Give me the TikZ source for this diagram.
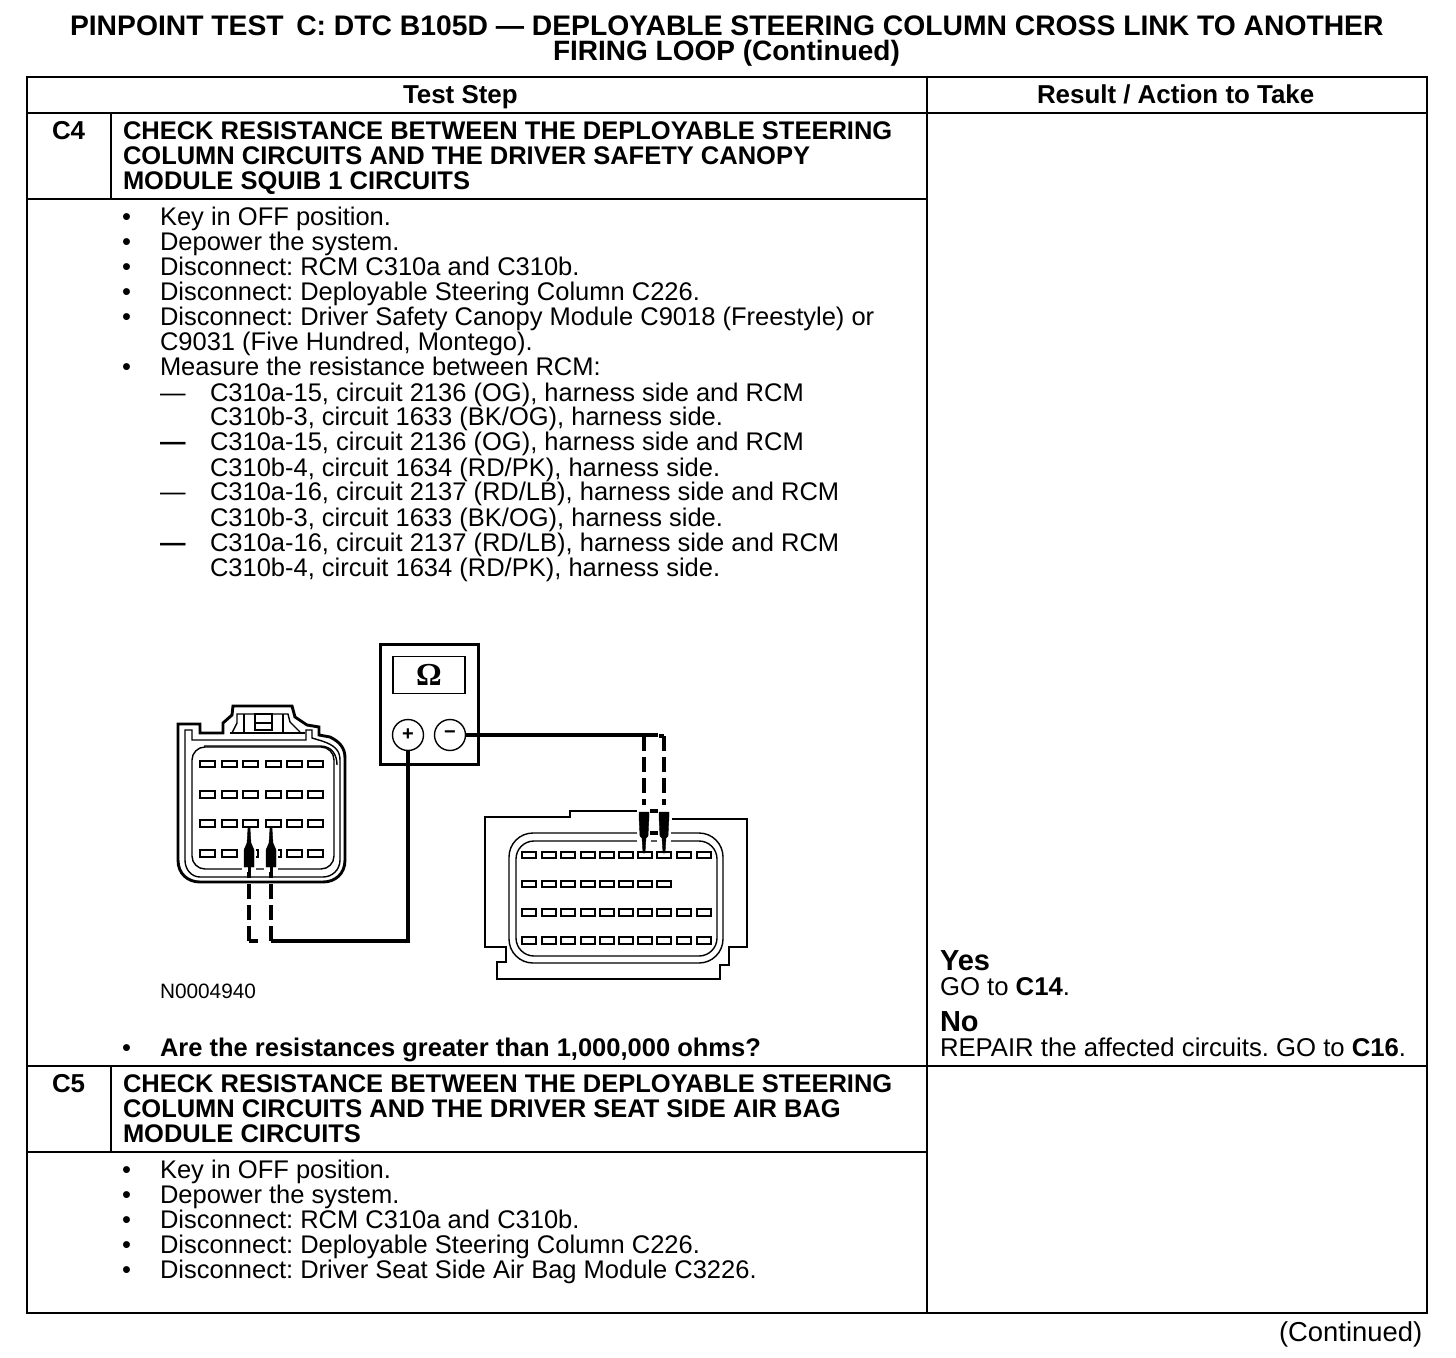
\documentclass[tikz,border=0pt]{standalone}
\usepackage{fontspec}
\setmainfont{Liberation Sans}
\newfontfamily\serifb{Liberation Serif}[BoldFont={Liberation Serif Bold}]
\newcounter{tn}
\frenchspacing
\tikzset{
 txt/.style={inner sep=0pt,outer sep=0pt,anchor=base west,font=\fontsize{12.75pt}{15pt}\selectfont},
 txtb/.style={txt,font=\fontsize{12.75pt}{15pt}\selectfont\bfseries},
 txtt/.style={txt,font=\fontsize{14pt}{15pt}\selectfont\bfseries},
 txth/.style={txt,font=\fontsize{12.95pt}{15pt}\selectfont\bfseries},
 rule/.style={line width=1.45pt,line cap=rect},
 shell/.style={line width=1.45pt,line join=miter},
 thinl/.style={line width=0.7pt},
 pin/.style={line width=0.85pt},
 wire/.style={line width=1.6pt},
 dashw/.style={line width=1.8pt,dash pattern=on 7.5pt off 3pt},
 probe/.style={fill=black,draw=black,line width=0.2pt}
}
\newcommand\tline[3]{\stepcounter{tn}\node[txt] (t\arabic{tn}) at (#1,#2) {#3};}
\newcommand\bline[3]{\stepcounter{tn}\node[txtb] (t\arabic{tn}) at (#1,#2) {#3};}
\newcommand\tbline[3]{\stepcounter{tn}\node[txtt] (t\arabic{tn}) at (#1,#2) {#3};}
\newcommand\hdline[3]{\stepcounter{tn}\node[txth] (t\arabic{tn}) at (#1,#2) {#3};}
\newcommand\bul[1]{\stepcounter{tn}\node[txt] (t\arabic{tn}) at (122,#1) {•};}
\newcommand\pinbox[4]{\draw[pin,fill=white] (#1,#2) rectangle (#3,#4);}
\begin{document}
\begin{tikzpicture}[x=0.5pt,y=-0.5pt]
\useasboundingbox (0,0) rectangle (1456,1358);
% table
\draw[rule] (27,77) rectangle (1427,1313);
\draw[rule] (27,113) -- (1427,113);
\draw[rule] (927,77) -- (927,1313);
\draw[rule] (27,1066) -- (1427,1066);
\draw[rule] (111,113) -- (111,199);
\draw[rule] (27,199) -- (927,199);
\draw[rule] (111,1066) -- (111,1152);
\draw[rule] (27,1152) -- (927,1152);
% title
\stepcounter{tn}\node[txtt,font=\fontsize{14.14pt}{15pt}\selectfont\bfseries] (t\arabic{tn}) at (70,36) {PINPOINT TEST\, C: DTC B105D — DEPLOYABLE STEERING COLUMN CROSS LINK TO ANOTHER};
\tbline{553}{61}{FIRING LOOP (Continued)}
\hdline{403}{104}{Test Step}
\hdline{1037}{104}{Result / Action to Take}
% C4
\hdline{52}{139.5}{C4}
\bline{123}{139.5}{CHECK RESISTANCE BETWEEN THE DEPLOYABLE STEERING}
\bline{123}{164.5}{COLUMN CIRCUITS AND THE DRIVER SAFETY CANOPY}
\bline{123}{189.5}{MODULE SQUIB 1 CIRCUITS}
\bul{226}\tline{160}{226}{Key in OFF position.}
\bul{251}\tline{160}{251}{Depower the system.}
\bul{276}\tline{160}{276}{Disconnect: RCM C310a and C310b.}
\bul{301}\tline{160}{301}{Disconnect: Deployable Steering Column C226.}
\bul{326}\tline{160}{326}{Disconnect: Driver Safety Canopy Module C9018 (Freestyle) or}
\tline{160}{351}{C9031 (Five Hundred, Montego).}
\bul{376}\tline{160}{376}{Measure the resistance between RCM:}
\tline{160}{401}{—}\tline{210}{401}{C310a-15, circuit 2136 (OG), harness side and RCM}
\tline{210}{426}{C310b-3, circuit 1633 (BK/OG), harness side.}
\bline{160}{451}{—}\tline{210}{451}{C310a-15, circuit 2136 (OG), harness side and RCM}
\tline{210}{476}{C310b-4, circuit 1634 (RD/PK), harness side.}
\tline{160}{501}{—}\tline{210}{501}{C310a-16, circuit 2137 (RD/LB), harness side and RCM}
\tline{210}{526}{C310b-3, circuit 1633 (BK/OG), harness side.}
\bline{160}{551}{—}\tline{210}{551}{C310a-16, circuit 2137 (RD/LB), harness side and RCM}
\tline{210}{576}{C310b-4, circuit 1634 (RD/PK), harness side.}
% left connector
\draw[shell] (178,860) -- (178,724) -- (200,724) -- (200,733) -- (223,733) -- (223,723) -- (232,715) -- (233,706) -- (292,706) -- (295,717) -- (307,725) -- (319,727) -- (319,735) -- (330,737) .. controls (340,742) and (345,748) .. (345,758) -- (345,860) .. controls (345,874) and (335,882) .. (323,882) -- (200,882) .. controls (188,882) and (178,874) .. (178,860) -- cycle;
\draw[thinl] (185,860) -- (185,730) -- (192,730) -- (192,740) -- (306,740) -- (306,730) -- (312,730) -- (312,738) -- (322,741) .. controls (334,745) and (340,750) .. (340,760) -- (340,860) .. controls (340,870) and (332,877) .. (323,877) -- (200,877) .. controls (192,877) and (185,870) .. (185,860) -- cycle;
\draw[thinl] (204,746) -- (320,746) .. controls (332,746) and (337,755) .. (337,765);
\draw[thinl,rounded corners=6.5pt] (192,747) rectangle (334,869);
\draw[thinl] (232,733) -- (237,723) -- (237,714) -- (288,714) -- (290,722) -- (300,732);
\draw[shell] (230,733) -- (305,733);
\draw[shell] (244,714) -- (244,733);
\draw[thinl] (283,714) -- (283,733);
\draw[thinl] (255,714) rectangle (272,730);
\draw[thinl] (255,723) -- (272,723);
\foreach \yy/\yb in {761/767,791/798,820/827,850/857}
  \foreach \xx in {200,222,243,266,287,308}
    {\pgfmathsetmacro\xb{\xx+15}\pinbox{\xx}{\yy}{\xb}{\yb}}
% right connector
\draw[shell] (638,811) -- (570,811) -- (570,817) -- (485,817) -- (485,947) -- (506,947) -- (506,962) -- (497,962) -- (497,979) -- (720,979) -- (720,965) -- (729,965) -- (729,947) -- (747,947) -- (747,819) -- (672,819);
\draw[thinl,fill=white,rounded corners=12pt] (509,833) rectangle (723,963);
\draw[thinl,rounded corners=9pt] (516,841) rectangle (717,956);
\foreach \yy/\yb in {852/858,881/887,909/916,937/944}
  \foreach \xx in {522,542,561,581,600,619,638,657,677,697}
    {\pgfmathsetmacro\xb{\xx+14}\pinbox{\xx}{\yy}{\xb}{\yb}}
\fill[white] (676,878) rectangle (713,890);
% meter
\node[draw,line width=1.5pt,minimum width=49pt,minimum height=60pt,inner sep=0pt] (meter) at (429,704) {};
\node[draw,line width=0.7pt,minimum width=36pt,minimum height=18.5pt,inner sep=0pt,font=\serifb\fontsize{16pt}{16pt}\selectfont\bfseries] (disp) at (429,675) {Ω};
\node[circle,draw,line width=0.7pt,minimum size=15.5pt,inner sep=0pt,font=\fontsize{10pt}{10pt}\selectfont\bfseries] (plus) at (408,735) {+};
\node[circle,draw,line width=0.7pt,minimum size=15.5pt,inner sep=0pt,font=\fontsize{10pt}{10pt}\selectfont\bfseries] (minus) at (450,735) {\raisebox{-1.8pt}{−}};
% leads
\coordinate (lp1) at (249,941); \coordinate (lp2) at (271,941);
\coordinate (rp1) at (644,736); \coordinate (rp2) at (664,736);
\draw[wire] (plus) -- (plus |- lp2) -- (lp2);
\draw[wire] (lp2) ++(-13,0) -- ++(-9,0);
\draw[wire] (minus) -- (minus -| rp1) -- ++(14,0);
\draw[wire] (rp2) -- ++(-5,0);
\draw[dashw] (lp1) -- (249,867);
\draw[dashw] (lp2) -- (271,867);
\draw[dashw] (rp1) -- (644,812);
\draw[dashw] (rp2) -- (664,812);
% probes
\foreach \c in {249,271}{
 \fill[white] (\c-7,843) rectangle (\c+7,872);
 \draw[probe] (\c-1,828) -- (\c+1,828) -- (\c+2,843) -- (\c+5,850) -- (\c+5,867) -- (\c-5,867) -- (\c-5,850) -- (\c-2,843) -- cycle;
 \draw[line width=1.5pt] (\c,867) -- (\c,873);
}
\foreach \c in {644,664}{
 \fill[white] (\c-7,805) rectangle (\c+7,844);
 \draw[probe] (\c-1,853) -- (\c+1,853) -- (\c+2,838) -- (\c+4,836) -- (\c+5,817) -- (\c+5,812) -- (\c-5,812) -- (\c-5,817) -- (\c-4,836) -- (\c-2,838) -- cycle;
}
\draw[wire] (650,811) -- (658,811);
\draw[wire] (650,833) -- (658,833);
\stepcounter{tn}\node[txt,font=\fontsize{10.4pt}{12pt}\selectfont] (t\arabic{tn}) at (160,998) {N0004940};
\bul{1056}\bline{160}{1056}{Are the resistances greater than 1,000,000 ohms?}
% right column
\stepcounter{tn}\node[txtb,font=\fontsize{14.5pt}{16pt}\selectfont\bfseries] (t\arabic{tn}) at (940,970) {Yes};
\stepcounter{tn}\node[txt,font=\fontsize{12.85pt}{15pt}\selectfont] (t\arabic{tn}) at (940,995) {GO to \textbf{C14}.};
\stepcounter{tn}\node[txtb,font=\fontsize{14.5pt}{16pt}\selectfont\bfseries] (t\arabic{tn}) at (940,1031) {No};
\stepcounter{tn}\node[txt,font=\fontsize{12.85pt}{15pt}\selectfont] (t\arabic{tn}) at (940,1056) {REPAIR the affected circuits. GO to \textbf{C16}.};
% C5
\hdline{52}{1092}{C5}
\bline{123}{1092}{CHECK RESISTANCE BETWEEN THE DEPLOYABLE STEERING}
\bline{123}{1117}{COLUMN CIRCUITS AND THE DRIVER SEAT SIDE AIR BAG}
\bline{123}{1142}{MODULE CIRCUITS}
\bul{1178}\tline{160}{1178}{Key in OFF position.}
\bul{1203}\tline{160}{1203}{Depower the system.}
\bul{1228}\tline{160}{1228}{Disconnect: RCM C310a and C310b.}
\bul{1253}\tline{160}{1253}{Disconnect: Deployable Steering Column C226.}
\bul{1278}\tline{160}{1278}{Disconnect: Driver Seat Side Air Bag Module C3226.}
\stepcounter{tn}\node[txt,font=\fontsize{13.7pt}{15pt}\selectfont] (t\arabic{tn}) at (1279,1341) {(Continued)};
\end{tikzpicture}
\end{document}
